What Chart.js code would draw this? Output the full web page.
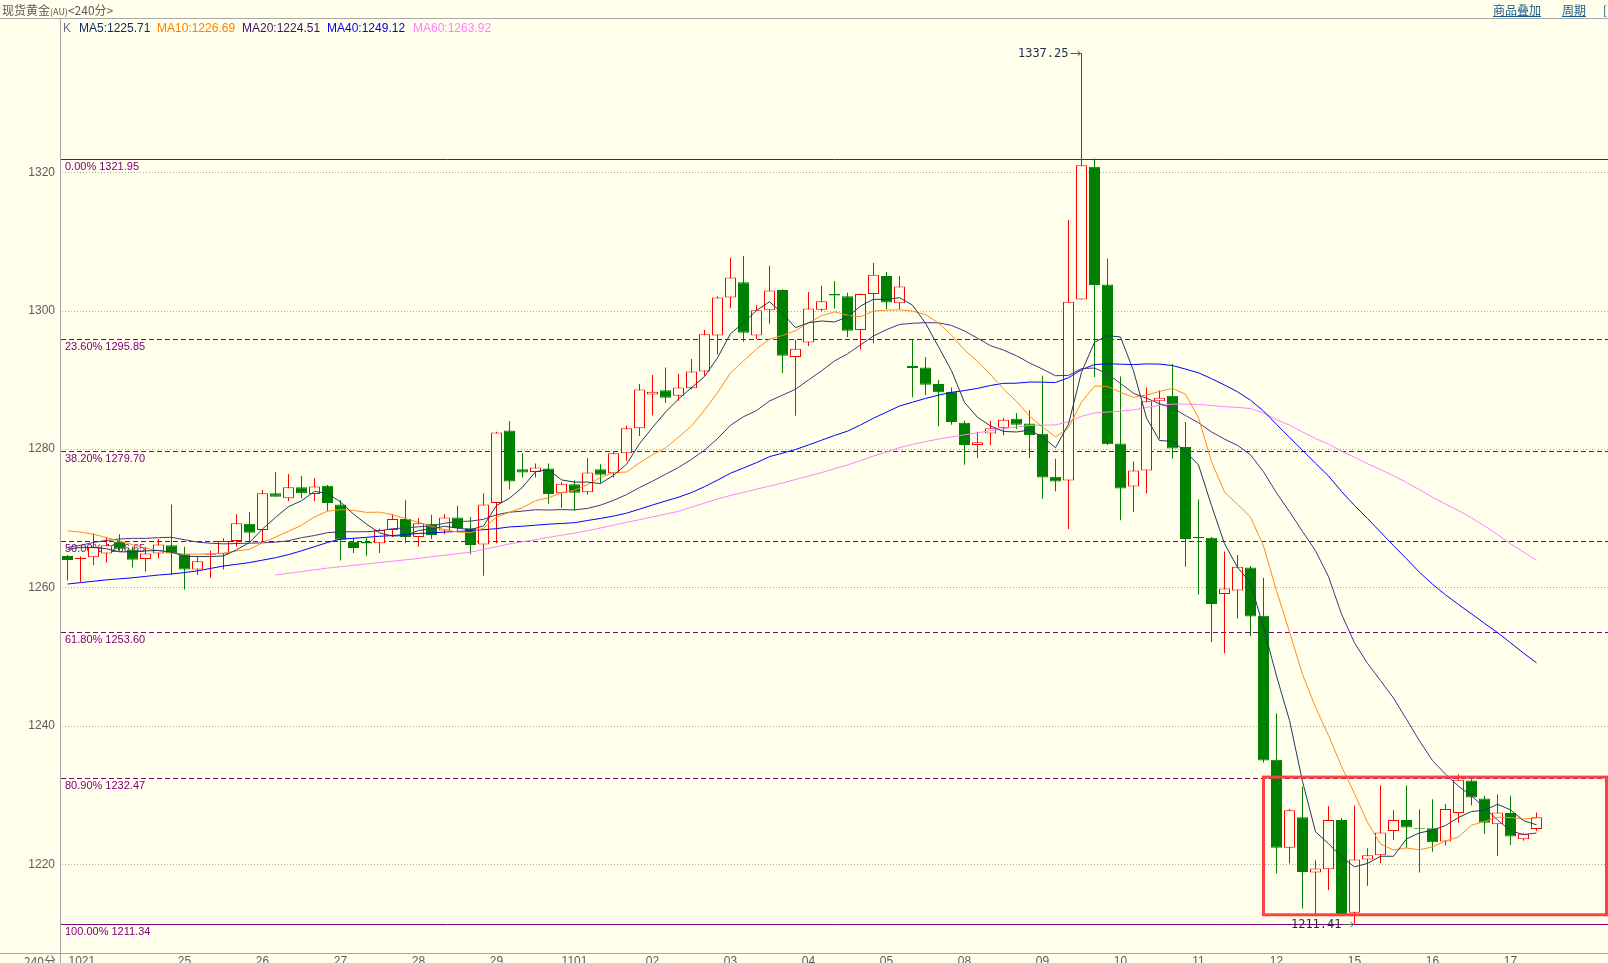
<!DOCTYPE html>
<html lang="zh-CN">
<head>
<meta charset="utf-8">
<title>现货黄金(AU) 240分</title>
<script src="https://cdn.jsdelivr.net/npm/chart.js@4.4.1/dist/chart.umd.min.js"></script>
<style>
  html, body { margin: 0; padding: 0; background: #FFFFEC; overflow: hidden; }
  #wrap { position: relative; width: 1608px; height: 963px; }
  #wrap canvas { position: absolute; left: 0; top: 0; }
  .txt { position: absolute; white-space: nowrap; z-index: 2; }
  #title { left: 2px; top: 1px; font: 12px "Noto Sans CJK SC", sans-serif; color: #5a5a5a; }
  #title small { font-size: 9px; }
  .link { top: 1px; font: 12px "Noto Sans CJK SC", sans-serif; color: #1a5a8a; text-decoration: underline; }
  .ma { top: 20px; font: 12px "Liberation Sans", Arial, sans-serif; line-height: 16px; }
</style>
</head>
<body>
<div id="wrap">
  <canvas id="kline"></canvas>
  <div class="txt" id="title">现货黄金<small>(AU)</small>&lt;240分&gt;</div>
  <div class="txt link" style="left:1493px">商品叠加</div>
  <div class="txt link" style="left:1562px">周期</div>
  <div class="txt link" style="left:1603px">[</div>
  <div id="legend"></div>
</div>
<script>
// 日期刻度（每个交易日第一根K线的位置）
const dayLabels = ["1021", "25", "26", "27", "28", "29", "1101", "02", "03", "04", "05", "08", "09", "10", "11", "12", "15", "16", "17"];
const dayStarts = [0, 9, 15, 21, 27, 33, 39, 45, 51, 57, 63, 69, 75, 81, 87, 93, 99, 105, 111];

// K线数据 (240分)
const openPrices = [
  1264.55, 1264.12, 1264.36, 1264.9, 1266.6, 1265.5, 1264.1, 1264.9, 1266.1, 1264.8,
  1262.6, 1264.7, 1264.8, 1266.7, 1269.2, 1268.3, 1273.6, 1272.9, 1274.5, 1273.5,
  1274.7, 1272.0, 1266.6, 1266.6, 1266.4, 1268.3, 1269.9, 1267.3, 1269.2, 1268.25,
  1270.1, 1268.55, 1266.2, 1272.2, 1282.7, 1277.1, 1276.7, 1277.2, 1273.6, 1274.9,
  1273.75, 1277.1, 1276.5, 1279.4, 1283.0, 1287.9, 1288.5, 1287.7, 1288.8, 1291.2,
  1296.4, 1301.9, 1304.1, 1296.4, 1300.05, 1303.0, 1293.3, 1295.4, 1300.15, 1302.4,
  1302.1, 1297.2, 1302.4, 1305.0, 1301.06, 1292.0, 1291.8, 1289.4, 1288.3, 1283.8,
  1280.6, 1282.25, 1283.1, 1284.4, 1283.7, 1282.2, 1276.0, 1275.45, 1301.6, 1320.8,
  1303.8, 1280.8, 1274.6, 1276.9, 1286.9, 1287.7, 1280.3, 1267.3, 1267.2, 1259.05,
  1259.55, 1262.9, 1255.9, 1235.1, 1222.4, 1226.8, 1218.8, 1219.3, 1226.4, 1213.0,
  1220.7, 1221.3, 1224.8, 1226.4, 1225.2, 1225.2, 1223.3, 1227.4, 1232.1, 1229.5,
  1225.8, 1227.4, 1223.6, 1225.1
];
const highPrices = [
  1264.7, 1264.5, 1267.8, 1267.3, 1267.7, 1265.9, 1265.9, 1267.0, 1272.0, 1265.9,
  1264.5, 1265.3, 1267.1, 1270.6, 1270.9, 1274.1, 1276.7, 1276.4, 1276.1, 1275.8,
  1274.8, 1272.6, 1267.2, 1267.2, 1268.5, 1270.6, 1272.6, 1270.0, 1270.5, 1270.6,
  1271.8, 1270.2, 1273.6, 1282.5, 1284.05, 1279.4, 1277.9, 1277.9, 1275.2, 1275.5,
  1278.7, 1277.8, 1279.7, 1283.4, 1289.4, 1290.7, 1291.8, 1290.9, 1293.0, 1297.2,
  1302.1, 1307.6, 1307.9, 1300.8, 1306.5, 1303.1, 1295.8, 1302.7, 1303.6, 1304.3,
  1302.6, 1302.5, 1306.9, 1305.6, 1305.0, 1295.8, 1293.3, 1290.0, 1288.9, 1284.1,
  1282.5, 1284.1, 1284.5, 1285.2, 1285.6, 1290.6, 1278.6, 1313.1, 1337.25, 1322.0,
  1307.5, 1290.5, 1278.2, 1288.9, 1288.5, 1292.3, 1283.9, 1272.7, 1267.3, 1265.2,
  1264.7, 1263.1, 1261.4, 1241.8, 1228.0, 1231.2, 1220.6, 1228.4, 1226.7, 1228.5,
  1222.3, 1231.4, 1227.8, 1231.4, 1227.9, 1229.4, 1228.7, 1233.0, 1232.3, 1229.85,
  1230.1, 1229.9, 1224.5, 1227.5
];
const lowPrices = [
  1261.0, 1260.8, 1263.25, 1263.6, 1265.3, 1262.9, 1262.3, 1264.2, 1261.8, 1259.7,
  1261.8, 1261.4, 1262.6, 1265.9, 1266.6, 1266.6, 1273.1, 1272.5, 1272.9, 1272.5,
  1271.0, 1263.9, 1265.0, 1264.6, 1265.0, 1267.3, 1266.4, 1265.9, 1267.0, 1267.7,
  1268.2, 1264.8, 1261.7, 1266.4, 1274.2, 1275.9, 1275.9, 1272.1, 1271.5, 1271.1,
  1273.4, 1275.05, 1275.9, 1278.3, 1281.9, 1284.9, 1286.7, 1287.0, 1288.6, 1290.6,
  1293.7, 1300.4, 1295.5, 1295.9, 1298.1, 1291.0, 1284.8, 1294.9, 1299.9, 1300.3,
  1296.2, 1294.4, 1295.3, 1300.2, 1300.2, 1287.5, 1287.8, 1283.3, 1283.5, 1277.75,
  1278.7, 1280.6, 1282.0, 1282.9, 1278.7, 1272.8, 1273.9, 1268.45, 1301.6, 1290.4,
  1280.6, 1269.7, 1270.9, 1273.6, 1281.5, 1278.6, 1263.0, 1259.0, 1252.1, 1250.5,
  1255.5, 1253.0, 1234.7, 1218.7, 1220.15, 1213.6, 1212.5, 1216.3, 1212.5, 1211.41,
  1216.9, 1220.1, 1223.5, 1222.4, 1218.8, 1221.8, 1222.7, 1226.0, 1228.5, 1224.4,
  1221.2, 1222.8, 1223.4, 1224.8
];
const closePrices = [
  1263.97, 1264.26, 1265.8, 1266.1, 1265.6, 1264.0, 1264.9, 1266.2, 1264.9, 1262.6,
  1263.8, 1264.8, 1266.7, 1269.3, 1267.9, 1273.6, 1273.1, 1274.5, 1273.6, 1274.6,
  1272.2, 1266.9, 1265.7, 1266.35, 1268.3, 1269.9, 1267.3, 1269.3, 1267.6, 1270.1,
  1268.6, 1266.15, 1272.0, 1282.4, 1275.3, 1276.6, 1277.35, 1273.5, 1275.0, 1273.7,
  1276.6, 1276.3, 1279.4, 1283.0, 1288.6, 1288.3, 1287.4, 1288.9, 1291.2, 1296.6,
  1301.9, 1304.8, 1296.8, 1300.05, 1302.9, 1293.5, 1294.5, 1300.3, 1301.35, 1302.2,
  1297.1, 1302.4, 1305.2, 1301.2, 1303.5, 1291.7, 1289.3, 1288.2, 1283.9, 1280.6,
  1281.0, 1283.0, 1284.25, 1283.5, 1282.05, 1275.9, 1275.3, 1301.3, 1321.0, 1303.7,
  1280.7, 1274.3, 1276.9, 1286.9, 1287.4, 1280.1, 1267.0, 1267.1, 1257.6, 1259.85,
  1263.0, 1255.8, 1235.0, 1222.4, 1227.8, 1218.9, 1219.4, 1226.4, 1212.8, 1220.7,
  1221.3, 1224.6, 1226.4, 1225.3, 1225.1, 1223.2, 1228.0, 1232.2, 1229.65, 1226.0,
  1227.5, 1224.0, 1224.4, 1226.8
];

// 均线
const ma5 = [
  1265.5, 1265.8, 1265.8, 1265.6, 1265.15, 1265.15, 1265.28, 1265.36, 1265.12, 1264.52,
  1264.48, 1264.46, 1264.56, 1265.44, 1266.5, 1268.46, 1270.12, 1271.68, 1272.54, 1273.88,
  1273.6, 1272.36, 1270.6, 1269.15, 1267.89, 1267.43, 1267.51, 1268.23, 1268.48, 1268.84,
  1268.58, 1268.35, 1268.89, 1271.85, 1272.89, 1274.49, 1276.73, 1277.03, 1275.55, 1275.23,
  1275.23, 1275.02, 1276.2, 1277.8, 1280.78, 1283.12, 1285.34, 1287.24, 1288.88, 1290.48,
  1293.2, 1296.68, 1298.26, 1300.03, 1301.29, 1299.61, 1297.55, 1298.25, 1298.51, 1298.37,
  1299.09, 1300.67, 1301.65, 1301.62, 1301.88, 1300.8, 1298.18, 1294.78, 1291.32, 1286.74,
  1284.6, 1283.34, 1282.55, 1282.47, 1282.76, 1281.74, 1280.2, 1283.61, 1291.11, 1295.44,
  1296.4, 1296.2, 1291.32, 1284.5, 1281.24, 1281.12, 1279.66, 1277.7, 1271.84, 1266.33,
  1262.91, 1260.67, 1254.25, 1247.21, 1240.8, 1231.98, 1224.7, 1222.98, 1221.06, 1219.64,
  1220.12, 1221.16, 1221.16, 1223.66, 1224.54, 1224.92, 1225.6, 1226.76, 1227.63, 1227.81,
  1228.67, 1227.87, 1226.31, 1225.71
];
const ma10 = [
  1268.2, 1268.0, 1267.7, 1267.2, 1266.7, 1266.2, 1265.7, 1265.3, 1265.0, 1264.83,
  1264.82, 1264.87, 1264.96, 1265.28, 1265.51, 1266.47, 1267.29, 1268.12, 1268.99, 1270.19,
  1271.03, 1271.24, 1271.14, 1270.85, 1270.89, 1270.52, 1269.94, 1269.42, 1268.82, 1268.37,
  1268.01, 1267.93, 1268.56, 1270.17, 1270.87, 1271.54, 1272.54, 1272.96, 1273.7, 1274.06,
  1274.86, 1275.88, 1276.62, 1276.68, 1278.01, 1279.18, 1280.18, 1281.72, 1283.34, 1285.63,
  1288.16, 1291.01, 1292.75, 1294.46, 1295.89, 1296.41, 1297.12, 1298.26, 1299.27, 1299.83,
  1299.35, 1299.11, 1299.95, 1300.07, 1300.13, 1299.95, 1299.43, 1298.22, 1296.47, 1294.31,
  1292.7, 1290.76, 1288.67, 1286.9, 1284.75, 1283.17, 1281.77, 1283.08, 1286.79, 1289.1,
  1289.07, 1288.2, 1287.47, 1287.81, 1288.34, 1288.76, 1287.93, 1284.51, 1278.17, 1273.79,
  1272.02, 1270.17, 1265.98, 1259.53, 1253.57, 1247.45, 1242.69, 1238.62, 1234.14, 1230.22,
  1226.05, 1222.93, 1222.07, 1222.36, 1222.09, 1222.52, 1223.38, 1223.96, 1225.65, 1226.18,
  1226.8, 1226.74, 1226.54, 1226.69
];
const ma20 = [
  1265.8, 1266.1, 1266.5, 1266.8, 1267.0, 1267.1, 1267.1, 1267.2, 1267.25, 1266.9,
  1266.55, 1266.4, 1266.3, 1266.35, 1266.4, 1266.45, 1266.55, 1266.75, 1267.2, 1267.51,
  1267.92, 1268.06, 1268.05, 1268.06, 1268.2, 1268.49, 1268.61, 1268.77, 1268.9, 1269.28,
  1269.52, 1269.59, 1269.85, 1270.51, 1270.88, 1271.03, 1271.24, 1271.19, 1271.26, 1271.21,
  1271.43, 1271.9, 1272.59, 1273.42, 1274.44, 1275.36, 1276.36, 1277.34, 1278.52, 1279.85,
  1281.51, 1283.44, 1284.68, 1285.57, 1286.95, 1287.79, 1288.65, 1289.99, 1291.31, 1292.73,
  1293.76, 1295.06, 1296.35, 1297.26, 1298.01, 1298.18, 1298.27, 1298.24, 1297.87, 1297.07,
  1296.03, 1294.94, 1294.31, 1293.48, 1292.44, 1291.56, 1290.6, 1290.65, 1291.63, 1291.71,
  1290.89, 1289.48, 1288.07, 1287.35, 1286.55, 1285.97, 1284.85, 1283.8, 1282.48, 1281.44,
  1280.54, 1279.18, 1276.72, 1273.67, 1270.95, 1268.1, 1265.31, 1261.56, 1256.15, 1252.0,
  1249.03, 1246.55, 1244.02, 1240.94, 1237.83, 1234.98, 1233.03, 1231.29, 1229.89, 1228.2,
  1226.42, 1224.83, 1224.3, 1224.51
];
const ma40 = [
  1260.5, 1260.7, 1260.9, 1261.1, 1261.25, 1261.4, 1261.6, 1261.8, 1261.95, 1262.15,
  1262.4, 1262.75, 1263.1, 1263.35, 1263.6, 1263.95, 1264.3, 1264.75, 1265.3, 1265.9,
  1266.5, 1267.0, 1267.1, 1267.25, 1267.4, 1267.5, 1267.65, 1267.8, 1267.9, 1268.0,
  1268.1, 1268.2, 1268.35, 1268.5, 1268.75, 1268.85, 1269.0, 1269.15, 1269.25, 1269.36,
  1269.68, 1269.98, 1270.32, 1270.74, 1271.32, 1271.92, 1272.49, 1273.05, 1273.71, 1274.56,
  1275.51, 1276.51, 1277.27, 1278.04, 1278.91, 1279.41, 1279.94, 1280.59, 1281.28, 1281.97,
  1282.59, 1283.48, 1284.47, 1285.34, 1286.22, 1286.77, 1287.32, 1287.79, 1288.2, 1288.46,
  1288.77, 1289.19, 1289.5, 1289.52, 1289.69, 1289.67, 1289.62, 1290.32, 1291.47, 1292.22,
  1292.32, 1292.27, 1292.21, 1292.31, 1292.28, 1292.07, 1291.56, 1291.02, 1290.18, 1289.26,
  1288.28, 1287.06, 1285.51, 1283.57, 1281.7, 1279.83, 1277.95, 1276.11, 1273.89, 1271.85,
  1269.96, 1268.01, 1266.04, 1264.15, 1262.19, 1260.47, 1258.94, 1257.54, 1256.19, 1254.82,
  1253.48, 1252.01, 1250.51, 1249.12
];
const ma60 = [
  null, null, null, null, null, null, null, null, null, null,
  null, null, null, null, null, null, 1261.8, 1262.05, 1262.3, 1262.55,
  1262.8, 1263.0, 1263.2, 1263.4, 1263.6, 1263.8, 1264.0, 1264.2, 1264.45, 1264.65,
  1264.9, 1265.1, 1265.5, 1265.9, 1266.3, 1266.6, 1266.9, 1267.25, 1267.55, 1267.85,
  1268.2, 1268.6, 1269.0, 1269.4, 1269.8, 1270.2, 1270.6, 1271.0, 1271.6, 1272.2,
  1272.8, 1273.3, 1273.75, 1274.2, 1274.65, 1275.1, 1275.6, 1276.1, 1276.6, 1277.15,
  1277.7, 1278.34, 1279.0, 1279.58, 1280.21, 1280.67, 1281.08, 1281.45, 1281.76, 1282.06,
  1282.35, 1282.65, 1282.95, 1283.18, 1283.42, 1283.46, 1283.49, 1283.94, 1284.73, 1285.22,
  1285.36, 1285.48, 1285.67, 1286.01, 1286.33, 1286.5, 1286.49, 1286.46, 1286.29, 1286.12,
  1286.03, 1285.85, 1285.24, 1284.24, 1283.45, 1282.48, 1281.52, 1280.73, 1279.7, 1278.81,
  1277.89, 1277.03, 1276.15, 1275.18, 1274.13, 1273.04, 1272.05, 1271.11, 1270.08, 1268.9,
  1267.66, 1266.32, 1265.11, 1263.92
];

const yTicks = [1220, 1240, 1260, 1280, 1300, 1320];

// 黄金分割线
const fibPercents = ["0.00%", "23.60%", "38.20%", "50.00%", "61.80%", "80.90%", "100.00%"];
const fibValues = [1321.95, 1295.85, 1279.70, 1266.65, 1253.60, 1232.47, 1211.34];

// 红色方框（整理区间）
const boxFrom = 92;
const boxTop = 1232.6;
const boxBottom = 1212.7;

const SLOTS = 119;          // 114根K线 + 右侧空白
const Y_MIN = 1207.18;
const Y_MAX = 1342.15;
const BG = "#FFFFEC";
const UP = "#FF0000";
const DOWN = "#008000";

const maList = [
  { name: "MA5", data: ma5, line: "#1F3A60", text: "#0F2A5C", left: 79 },
  { name: "MA10", data: ma10, line: "#FF8A1E", text: "#FF7F00", left: 157 },
  { name: "MA20", data: ma20, line: "#502D8A", text: "#3F0F6F", left: 242 },
  { name: "MA40", data: ma40, line: "#0000FF", text: "#0000FF", left: 327 },
  { name: "MA60", data: ma60, line: "#FF80FF", text: "#FF80FF", left: 413 }
];

// 均线图例
const legend = document.getElementById("legend");
legend.innerHTML = '<div class="txt ma" style="left:63px;color:#6E6E8E">K</div>' +
  maList.map(m => `<div class="txt ma" style="left:${m.left}px;color:${m.text}">${m.name}:${m.data[m.data.length - 1].toFixed(2)}</div>`).join("");

const isUp = closePrices.map((c, i) => c > openPrices[i]);
const slotLabels = Array.from({ length: SLOTS }, (_, i) => String(i));

const decor = {
  id: "decor",
  beforeDatasetsDraw(chart) {
    const { ctx, chartArea: a, scales: { y } } = chart;
    ctx.save();
    // 网格点线
    ctx.strokeStyle = "#ababab";
    ctx.lineWidth = 1;
    ctx.setLineDash([1, 2]);
    yTicks.forEach(v => {
      const py = Math.round(y.getPixelForValue(v)) + 0.5;
      ctx.beginPath(); ctx.moveTo(a.left + 1, py); ctx.lineTo(a.right, py); ctx.stroke();
    });
    // 分割线和文字
    ctx.font = '11px "Liberation Sans", Arial, sans-serif';
    ctx.fillStyle = "#800080";
    ctx.strokeStyle = "#800080";
    ctx.textBaseline = "alphabetic";
    fibValues.forEach((v, k) => {
      const py = Math.round(y.getPixelForValue(v)) + 0.5;
      const solid = k === 0 || k === fibValues.length - 1;
      ctx.setLineDash(solid ? [] : [5, 3]);
      ctx.beginPath(); ctx.moveTo(a.left, py); ctx.lineTo(a.right, py); ctx.stroke();
      ctx.fillText(fibPercents[k] + " " + v.toFixed(2), a.left + 4, py + 10);
    });
    ctx.restore();
  },
  afterDatasetsDraw(chart) {
    const { ctx, chartArea: a, scales: { x, y } } = chart;
    ctx.save();
    // 方框
    ctx.strokeStyle = "#FF4040";
    ctx.lineWidth = 3;
    const bx = x.getPixelForValue(boxFrom);
    const by = y.getPixelForValue(boxTop);
    ctx.strokeRect(bx, by, a.right - 1.5 - bx, y.getPixelForValue(boxBottom) - by);

    // 最高价 / 最低价标注
    const hi = Math.max(...highPrices);
    const lo = Math.min(...lowPrices);
    const marks = [
      { i: highPrices.indexOf(hi), v: hi },
      { i: lowPrices.indexOf(lo), v: lo }
    ];
    ctx.font = '12px "DejaVu Sans Mono", monospace';
    ctx.textAlign = "right";
    ctx.textBaseline = "middle";
    marks.forEach(m => {
      const px = Math.round(x.getPixelForValue(m.i)) - 0.5;
      const py = Math.round(y.getPixelForValue(m.v)) + 0.5;
      ctx.fillStyle = "#1a2850";
      ctx.fillText(m.v.toFixed(2), px - 13, py);
      ctx.strokeStyle = "#555";
      ctx.lineWidth = 1;
      ctx.beginPath();
      ctx.moveTo(px - 11, py); ctx.lineTo(px - 1, py);
      ctx.moveTo(px - 4, py - 2.5); ctx.lineTo(px - 1, py); ctx.lineTo(px - 4, py + 2.5);
      ctx.stroke();
    });
    ctx.restore();
  },
  afterDraw(chart) {
    const { ctx, chartArea: a, scales: { x }, width, height } = chart;
    ctx.save();
    ctx.strokeStyle = "#a8a8a8";
    ctx.lineWidth = 1;
    ctx.beginPath();
    ctx.moveTo(0, 18.5); ctx.lineTo(width, 18.5);
    ctx.moveTo(a.left - 0.5, 18); ctx.lineTo(a.left - 0.5, height);
    ctx.moveTo(0, a.bottom + 0.5); ctx.lineTo(width, a.bottom + 0.5);
    ctx.stroke();

    // 日期刻度
    ctx.font = '12px "Liberation Sans", Arial, sans-serif';
    ctx.fillStyle = "#5c5c5c";
    ctx.textBaseline = "alphabetic";
    const ty = a.bottom + 12;
    dayLabels.forEach((lab, k) => {
      const px = x.getPixelForValue(dayStarts[k]);
      ctx.textAlign = k === 0 ? "left" : "center";
      ctx.fillText(lab, k === 0 ? px + 1 : px, ty);
    });
    ctx.textAlign = "right";
    ctx.font = '12px "Noto Sans CJK SC", sans-serif';
    ctx.fillText("240分", a.left - 5, ty + 1);
    ctx.restore();
  }
};

new Chart(document.getElementById("kline"), {
  type: "bar",
  data: {
    labels: slotLabels,
    datasets: [
      ...maList.map(m => ({
        type: "line",
        label: m.name,
        data: m.data,
        borderColor: m.line,
        borderWidth: 1,
        pointRadius: 0,
        tension: 0,
        fill: false,
        order: 1
      })),
      {
        label: "实体",
        data: openPrices.map((o, i) => [o, closePrices[i]]),
        backgroundColor: isUp.map(u => (u ? BG : DOWN)),
        borderColor: isUp.map(u => (u ? UP : DOWN)),
        borderWidth: 1,
        borderSkipped: false,
        inflateAmount: 0,
        barThickness: 11,
        grouped: false,
        order: 2
      },
      {
        label: "影线",
        data: lowPrices.map((l, i) => [l, highPrices[i]]),
        backgroundColor: isUp.map(u => (u ? UP : DOWN)),
        borderWidth: 0,
        inflateAmount: 0,
        barThickness: 1,
        grouped: false,
        order: 3
      }
    ]
  },
  options: {
    responsive: true,
    maintainAspectRatio: false,
    animation: false,
    devicePixelRatio: 1,
    layout: { padding: { top: 19, bottom: 10, left: 0, right: 0 } },
    plugins: { legend: { display: false }, tooltip: { enabled: false } },
    scales: {
      x: {
        type: "category",
        display: false,
        offset: true
      },
      y: {
        position: "left",
        min: Y_MIN,
        max: Y_MAX,
        afterBuildTicks: s => { s.ticks = yTicks.map(v => ({ value: v })); },
        afterFit: s => { s.width = 61; s.paddingTop = 0; s.paddingBottom = 0; },
        grid: { display: false, drawTicks: false },
        border: { display: false },
        ticks: {
          padding: 6,
          color: "#5c5c5c",
          font: { family: '"Liberation Sans", Arial, sans-serif', size: 12 },
          callback: v => String(v)
        }
      }
    }
  },
  plugins: [decor]
});
</script>
</body>
</html>
